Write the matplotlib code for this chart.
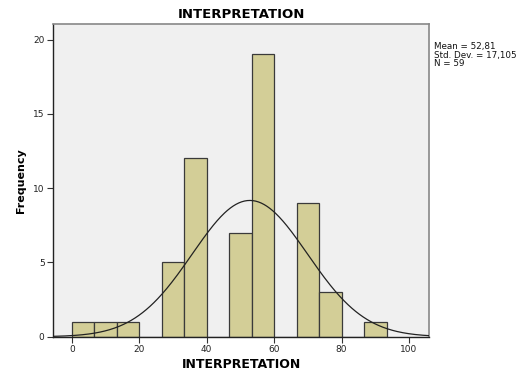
import numpy as np
import matplotlib
matplotlib.use("Agg")
import matplotlib.pyplot as plt

# Data
bin_lefts = [0.0, 6.667, 13.333, 20.0, 26.667, 33.333, 40.0, 46.667, 53.333,
             60.0, 66.667, 73.333, 80.0, 86.667]
counts = [1, 1, 1, 0, 5, 12, 0, 7, 19, 0, 9, 3, 0, 1]
bin_width = 6.667
mean = 52.81
std = 17.105
n = 59
x_ticks = [0, 20, 40, 60, 80, 100]
y_ticks = [0, 5, 10, 15, 20]

fig = plt.figure(figsize=(5.19, 3.75), dpi=100)
ax = fig.add_axes([0.102, 0.102, 0.725, 0.834])
ax.set_facecolor("#F0F0F0")

ax.bar(bin_lefts, counts, width=bin_width, align="edge",
       color="#D3CE97", edgecolor="#3a3a3a", linewidth=0.9, zorder=2)

xs = np.linspace(-5.6, 106, 400)
pdf = n * bin_width / (std * np.sqrt(2 * np.pi)) * np.exp(-0.5 * ((xs - mean) / std) ** 2)
ax.plot(xs, pdf, color="#222222", linewidth=0.9, zorder=3)

ax.set_xlim(-5.6, 106)
ax.set_ylim(0, 21.05)
ax.set_xticks(x_ticks)
ax.set_yticks(y_ticks)
ax.tick_params(axis="both", labelsize=6.5, length=4.5, width=0.8, pad=1.5,
               colors="#333333")
for lab in ax.get_xticklabels() + ax.get_yticklabels():
    lab.set_color("#222222")

for s in ["top", "right"]:
    ax.spines[s].set_color("#888888")
    ax.spines[s].set_linewidth(1.2)
for s in ["left", "bottom"]:
    ax.spines[s].set_color("#222222")
    ax.spines[s].set_linewidth(1.0)

ax.set_title("INTERPRETATION", fontsize=9.5, fontweight="bold", pad=4)
ax.set_xlabel("INTERPRETATION", fontsize=9, fontweight="bold", labelpad=3)
ax.set_ylabel("Frequency", fontsize=8, fontweight="bold", labelpad=5)

fig.text(434 / 519, 1 - 42 / 375,
         "Mean = 52,81\nStd. Dev. = 17,105\nN = 59",
         fontsize=6.3, va="top", ha="left", linespacing=0.95, color="#111111")

fig.savefig("out.png", dpi=100)
